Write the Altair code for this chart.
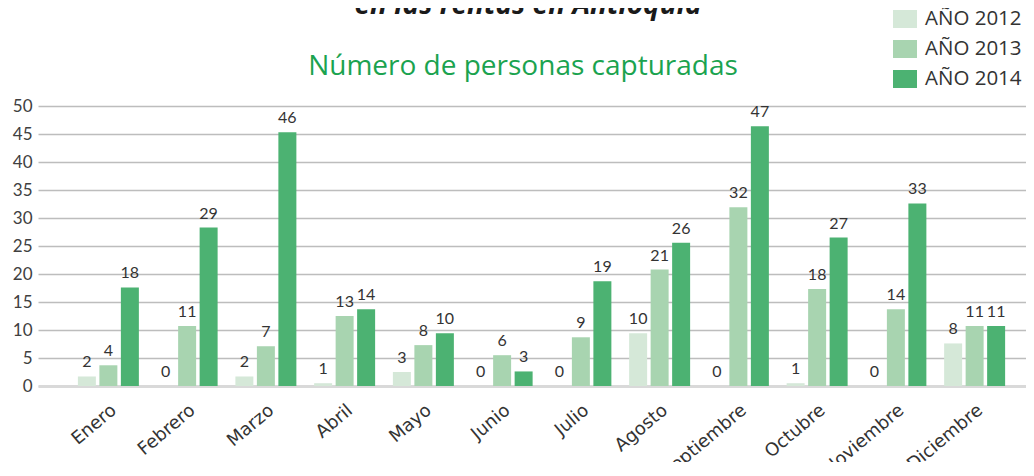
import altair as alt
import pandas as pd

months = ["Enero", "Febrero", "Marzo", "Abril", "Mayo", "Junio", "Julio",
          "Agosto", "Septiembre", "Octubre", "Noviembre", "Diciembre"]
series = ["AÑO 2012", "AÑO 2013", "AÑO 2014"]

# bar heights as drawn
bar2012 = [1.7, 0, 1.7, 0.5, 2.5, 0, 0, 9.4, 0, 0.5, 0, 7.6]
bar2013 = [3.7, 10.7, 7.1, 12.5, 7.3, 5.5, 8.7, 20.8, 31.9, 17.3, 13.7, 10.7]
bar2014 = [17.6, 28.3, 45.3, 13.7, 9.4, 2.6, 18.7, 25.6, 46.4, 26.5, 32.6, 10.7]
# data labels as printed
lab2012 = [2, 0, 2, 1, 3, 0, 0, 10, 0, 1, 0, 8]
lab2013 = [4, 11, 7, 13, 8, 6, 9, 21, 32, 18, 14, 11]
lab2014 = [18, 29, 46, 14, 10, 3, 19, 26, 47, 27, 33, 11]

title_text = "en las rentas en Antioquia"
subtitle_text = "Número de personas capturadas"
y_ticks = list(range(0, 51, 5))

colors = ["#d5e8d8", "#a8d4b0", "#4cb272"]

rows = []
for s, bars, labs in zip(series, [bar2012, bar2013, bar2014], [lab2012, lab2013, lab2014]):
    for m, b, l in zip(months, bars, labs):
        rows.append({"mes": m, "serie": s, "valor": b, "etiqueta": str(l)})
df = pd.DataFrame(rows)

x = alt.X("mes:N", sort=months, title=None,
          scale=alt.Scale(paddingInner=0, paddingOuter=0.273, align=0.721, round=False),
          axis=alt.Axis(labelAngle=-40, labelFont="DejaVu Sans", labelFontSize=18,
                        labelColor="#333333", labelPadding=15, ticks=False,
                        domainColor="#d9d9d9", domainWidth=3, labelAlign="right",
                        labelBaseline="top"))
xo = alt.XOffset("serie:N", sort=series,
                 scale=alt.Scale(paddingInner=0.163, paddingOuter=0.413, round=False))
y = alt.Y("valor:Q", title=None,
          scale=alt.Scale(domain=[0, 50], nice=False),
          axis=alt.Axis(values=y_ticks, domain=False, ticks=False,
                        labelFont="Lato", labelFontSize=17, labelColor="#404040",
                        labelPadding=6,
                        gridColor=alt.condition("datum.value === 0", alt.value("#d9d9d9"), alt.value("#bdbdbd")),
                        gridWidth=1.5))

color = alt.Color("serie:N", sort=series,
                  scale=alt.Scale(domain=series, range=colors),
                  legend=alt.Legend(title=None, orient="none", legendX=855, legendY=-99,
                                    symbolType="M-1,-0.75H1V0.75H-1Z", symbolSize=576,
                                    symbolStrokeWidth=0, symbolOpacity=1,
                                    labelFont="Open Sans", labelFontSize=20.5,
                                    labelColor="#333333", labelOffset=8, rowPadding=7))

bars = alt.Chart(df).mark_bar().encode(x=x, xOffset=xo, y=y, color=color)
labels = alt.Chart(df).mark_text(baseline="bottom", dy=-6, font="Lato", fontSize=16,
                                 color="#333333").encode(
    x=x, xOffset=xo, y=y, text="etiqueta:N")

title_df = pd.DataFrame({"t": [title_text]})
sub_df = pd.DataFrame({"t": [subtitle_text]})
title_mark = alt.Chart(title_df).mark_text(
    font="Open Sans", fontStyle="italic", fontWeight="bold", fontSize=28,
    color="#1a1a1a", align="center", baseline="alphabetic").encode(
    text="t:N", x=alt.value(490), y=alt.value(-92))
sub_mark = alt.Chart(sub_df).mark_text(
    font="Open Sans", fontSize=28, color="#1ba34f", align="center",
    baseline="alphabetic").encode(
    text="t:N", x=alt.value(485), y=alt.value(-31))

chart = alt.layer(bars, labels, title_mark, sub_mark).properties(
    width=988, height=280,
    autosize=alt.AutoSizeParams(type="none"),
    padding={"left": 30, "top": 98, "right": 0, "bottom": 76},
).configure_view(stroke=None)

chart.save("out.html", embed_options={"renderer": "svg", "actions": False})
